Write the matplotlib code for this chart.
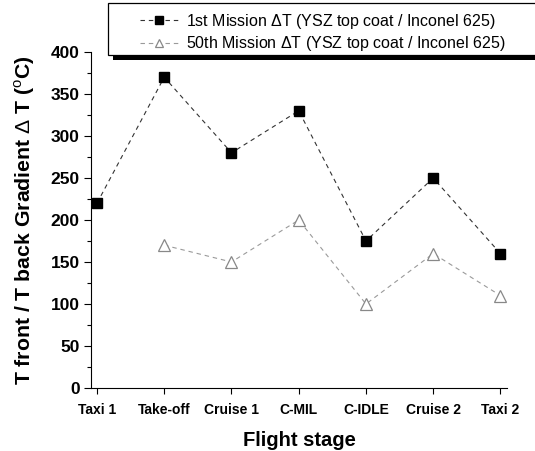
import matplotlib
matplotlib.use("Agg")
import matplotlib.pyplot as plt
from matplotlib.patches import Rectangle
from matplotlib.ticker import MultipleLocator
import numpy as np

plt.rcParams['font.family'] = ['Liberation Sans', 'DejaVu Sans']
plt.rcParams['mathtext.fontset'] = 'custom'
plt.rcParams['mathtext.rm'] = 'Liberation Sans'
plt.rcParams['mathtext.bf'] = 'Liberation Sans:bold'

stages = ["Taxi 1", "Take-off", "Cruise 1", "C-MIL", "C-IDLE", "Cruise 2", "Taxi 2"]
first_mission = [220, 370, 280, 330, 175, 250, 160]
fiftieth_mission = [np.nan, 170, 150, 200, 100, 160, 110]

fig = plt.figure(figsize=(5.35, 4.51), dpi=100)
ax = fig.add_axes([0.170, 0.1397, 0.778, 0.745])

x = np.arange(len(stages))
dash = (0, (4, 3.5))
l1, = ax.plot(x, first_mission, linestyle=dash, color='#333333', linewidth=0.8,
              marker='s', markersize=7, markerfacecolor='black', markeredgecolor='black')
l2, = ax.plot(x, fiftieth_mission, linestyle=dash, color='#9a9a9a', linewidth=0.8,
              marker='^', markersize=9, markerfacecolor='white', markeredgecolor='#888888',
              markeredgewidth=0.9)

ax.set_xlim(-0.09, 6.1)
ax.set_ylim(0, 400)
ax.set_xticks(x)
ax.set_xticklabels(stages, fontsize=10, fontweight='bold')
ax.yaxis.set_major_locator(MultipleLocator(50))
ax.yaxis.set_minor_locator(MultipleLocator(25))
for lab in ax.get_yticklabels():
    lab.set_fontweight('bold')
    lab.set_fontsize(12.5)
ax.tick_params(axis='y', which='major', length=5, width=0.8, direction='out', pad=3)
ax.tick_params(axis='y', which='minor', length=3, width=0.8, direction='out')
ax.tick_params(axis='x', length=4, width=0.8, direction='out', pad=7)
ax.spines['top'].set_visible(False)
ax.spines['right'].set_visible(False)
ax.spines['left'].set_linewidth(0.8)
ax.spines['bottom'].set_linewidth(0.8)

ax.set_ylabel(r'T front / T back Gradient $\Delta$ T ($^{\mathrm{o}}$C)', fontsize=15.3,
              fontweight='bold', labelpad=10)
ax.set_xlabel('Flight stage', fontsize=14.5, fontweight='bold', labelpad=10)

# Legend box with a heavy drop shadow along its lower edge
W, H = 535, 451
shadow = Rectangle((113 / W, 1 - 60 / H), 450 / W, 55 / H, transform=fig.transFigure,
                   facecolor='black', edgecolor='none', zorder=5)
box = Rectangle((108 / W, 1 - 55 / H), 450 / W, 52 / H, transform=fig.transFigure,
                facecolor='white', edgecolor='black', linewidth=0.9, zorder=6)
fig.add_artist(shadow)
fig.add_artist(box)
leg = fig.legend([l1, l2],
                 [r'1st Mission $\Delta$T (YSZ top coat / Inconel 625)',
                  r'50th Mission $\Delta$T (YSZ top coat / Inconel 625)'],
                 loc='upper left', bbox_to_anchor=(140 / W, 1 - 12 / H),
                 frameon=False, fontsize=11.5, handlelength=2.4, handletextpad=0.45,
                 labelspacing=0.2, borderaxespad=0, borderpad=0)
leg.set_zorder(7)
for h in leg.legend_handles:
    h.set_markersize(6)

fig.savefig('out.png', dpi=100)
